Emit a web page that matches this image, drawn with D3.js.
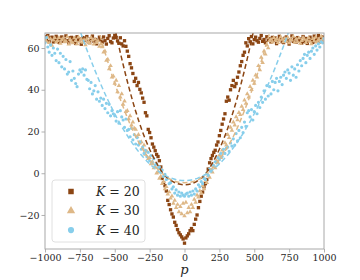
<!DOCTYPE html>
<html><head><meta charset="utf-8">
<script src="https://cdn.jsdelivr.net/npm/d3@7"></script>
<style>body{margin:0;background:#fff}svg{display:block}
text{font-family:"DejaVu Serif",serif}</style>
</head><body><svg id="c" width="360" height="280"></svg>
<script>
// ---------- data ----------
const pK20 = d3.range(-1000, 1001, 10);
const vK20 = [
65.5,64.2,66.0,63.1,64.8,65.2,62.9,63.8,65.6,64.1,
62.7,64.5,65.3,63.2,64.0,65.8,63.5,62.4,64.9,65.1,
63.4,64.6,62.2,65.4,63.9,64.3,61.8,65.0,63.6,64.7,
65.5,63.0,62.6,64.4,65.7,63.3,64.1,62.0,63.7,65.2,
64.0,62.8,65.3,63.5,61.9,64.6,65.9,63.1,62.5,64.8,
66.1,65.0,63.4,62.3,64.9,62.0,61.0,63.5,60.8,58.5,
56.0,52.5,50.5,47.8,44.0,45.5,42.0,43.5,40.2,38.5,
36.0,34.0,29.0,27.5,21.0,19.5,17.0,14.0,12.5,10.8,
9.0,8.0,6.0,3.0,-2.5,-4.5,-6.0,-8.5,-13.0,-15.0,
-17.5,-19.5,-21.0,-23.5,-25.0,-27.0,-28.5,-29.5,-30.5,-31.5,
-33.5,
-31.0,-30.0,-29.0,-27.5,-26.5,-27.5,-24.5,-22.0,-20.0,-16.5,
-13.5,-11.0,-9.0,-6.5,-5.0,-3.0,2.0,5.0,7.0,8.5,
10.0,11.0,13.5,15.0,18.0,20.5,23.5,26.0,28.5,34.5,
36.5,35.0,40.0,42.0,44.5,41.5,43.0,46.0,48.5,51.5,
53.5,56.5,58.0,62.5,61.0,64.5,63.0,65.5,62.0,64.0,
65.2,63.5,62.8,64.6,66.0,63.2,64.1,62.5,65.4,63.8,
64.4,62.9,65.1,63.6,64.8,62.1,63.9,65.6,64.2,63.0,
62.6,64.7,65.3,63.4,61.9,64.0,65.8,63.2,64.5,62.8,
65.0,63.7,64.3,62.4,65.5,63.1,64.6,62.2,63.8,65.2,
64.1,62.7,65.7,63.5,64.4,66.0,63.0,64.9,65.3,64.0];

const pK30 = d3.range(-1000, 1001, 10);
const vK30 = [
64.0,63.2,65.1,62.5,64.4,61.2,63.8,64.9,62.8,63.5,
65.0,62.2,63.9,64.6,62.9,63.3,65.3,61.8,64.1,63.0,
62.4,64.8,63.6,62.0,65.2,63.1,64.3,62.7,63.9,61.5,
64.5,63.0,62.3,65.0,63.7,61.9,64.2,62.6,63.4,60.8,
62.0,60.5,58.0,58.5,54.0,54.5,50.0,51.5,46.0,46.5,
43.0,44.5,39.0,42.0,36.5,38.0,33.0,34.5,29.5,30.0,
26.0,27.5,23.0,24.5,21.5,21.0,17.5,18.5,14.5,15.0,
12.0,13.5,9.0,10.5,7.0,7.5,4.5,5.5,2.5,3.0,
0.0,0.5,-2.5,-1.5,-5.0,-4.0,-7.5,-6.5,-10.0,-9.0,
-12.0,-11.0,-14.5,-13.0,-16.5,-15.0,-18.5,-16.0,-19.5,-14.5,
-20.5,
-14.0,-19.0,-16.5,-18.5,-15.0,-16.5,-12.5,-14.0,-10.5,-11.5,
-8.5,-9.5,-6.0,-7.5,-3.5,-4.5,-1.0,-2.0,1.5,0.5,
3.5,2.5,6.0,5.0,8.5,7.5,11.0,10.0,14.5,13.5,
18.5,17.0,22.0,20.5,24.5,23.0,27.0,25.5,29.0,28.0,
32.0,30.5,35.0,33.5,38.0,36.5,41.5,40.0,44.5,43.0,
47.0,46.0,51.5,49.5,55.5,53.0,58.5,57.0,61.5,60.0,
63.5,64.2,62.8,65.0,63.6,64.4,62.5,63.9,65.3,64.1,
62.9,64.6,63.3,65.1,62.4,64.0,63.7,65.5,62.7,64.3,
63.0,64.8,62.2,63.5,65.0,64.1,62.6,63.8,64.9,63.2,
62.0,64.5,63.4,65.2,62.8,64.0,63.1,65.6,64.2,63.5];

const pK40 = d3.range(-1000, 1001, 10);
const vK40 = [
62.5,65.0,60.5,58.0,61.5,56.5,60.0,57.5,54.0,59.5,
53.0,57.5,51.0,56.0,50.0,54.5,47.5,48.5,53.5,44.5,
49.0,45.5,43.0,41.5,47.5,49.5,48.5,50.0,47.0,49.5,
45.0,44.5,40.5,43.5,38.0,39.5,42.0,35.5,39.0,34.5,
36.0,32.5,35.5,31.0,33.5,29.0,33.0,27.5,30.0,28.5,
27.5,25.0,29.5,24.0,30.0,27.0,25.5,22.0,26.0,20.5,
21.0,17.5,21.5,16.0,18.5,14.0,17.0,13.5,15.0,11.5,
12.5,9.5,11.0,8.0,10.0,6.0,8.5,5.0,7.0,4.0,
4.5,2.5,3.0,0.5,1.5,-1.5,-0.5,-3.0,-2.5,-5.0,
-4.5,-7.5,-6.5,-9.5,-8.0,-10.5,-9.0,-11.0,-9.5,-10.5,
-11.0,
-10.0,-9.5,-11.0,-9.0,-10.5,-8.5,-10.0,-7.5,-8.5,-5.5,
-6.5,-4.0,-5.0,-2.5,-3.0,0.0,-1.0,2.0,1.0,4.0,
3.5,5.5,5.0,7.5,6.5,9.5,8.0,11.5,9.5,12.0,
12.5,10.5,14.5,13.0,16.5,13.5,19.0,15.5,20.5,17.0,
22.0,19.5,24.5,22.5,29.0,30.0,27.0,30.5,25.5,29.5,
32.5,28.5,34.0,31.5,36.5,34.0,39.5,35.5,42.0,37.0,
41.5,38.0,44.0,40.0,43.5,45.5,39.5,44.0,46.0,42.5,
47.0,48.5,45.5,49.5,48.0,44.5,51.0,47.0,50.0,46.0,
52.0,49.0,54.0,51.5,55.0,57.0,53.0,56.5,58.0,55.0,
58.5,60.0,57.0,61.0,59.0,62.0,60.5,63.0,62.5,64.5];

// dashed fit curves
const fitP20 = [-550,-500,-450,-400,-350,-300,-250,-200,-150,-100,-50,0,50,100,150,200,250,300,350,400,450,500,550];
const fitV20 = [86.4,69.9,54.9,41.5,29.7,19.7,11.5,4.8,-0.4,-3.3,-5.0,-5.5,-5.0,-3.3,-0.4,4.8,11.5,19.7,29.7,41.5,54.9,69.9,86.4];
const fitP30 = [-650,-600,-550,-500,-450,-400,-350,-300,-250,-200,-150,-100,-50,0,50,100,150,200,250,300,350,400,450,500,550,600,650];
const fitV30 = [77.3,64.9,53.5,43.0,33.6,25.1,17.6,11.6,6.6,2.5,-0.6,-3.0,-4.2,-4.5,-4.2,-3.0,-0.6,2.5,6.6,11.6,17.6,25.1,33.6,43.0,53.5,64.9,77.3];
const fitP40 = [-800,-750,-700,-650,-600,-550,-500,-450,-400,-350,-300,-250,-200,-150,-100,-50,0,50,100,150,200,250,300,350,400,450,500,550,600,650,700,750,800];
const fitV40 = [78.4,68.5,59.2,50.6,42.6,35.2,28.5,22.4,17.0,12.2,8.0,4.5,1.6,-0.6,-2.2,-3.2,-3.5,-3.2,-2.2,-0.6,1.6,4.5,8.0,12.2,17.0,22.4,28.5,35.2,42.6,50.6,59.2,68.5,78.4];

const seriesNames = ["K = 20", "K = 30", "K = 40"];
const xTicks = [-1000,-750,-500,-250,0,250,500,750,1000];
const yTicks = [-20,0,20,40,60];

// ---------- layout ----------
const colors = ["#8B4513", "#DEB887", "#87CEEB"];
const L = 45, R = 324, T = 33, B = 249;
const svg = d3.select("#c");
const x = d3.scaleLinear().domain([-1000, 1000]).range([L, R]);
const y = d3.scaleLinear().domain([-36.3, 67.2]).range([B, T]);
const font = "DejaVu Serif";

svg.append("defs").append("clipPath").attr("id", "clip")
  .append("rect").attr("x", L).attr("y", T).attr("width", R - L).attr("height", B - T);

const plot = svg.append("g").attr("clip-path", "url(#clip)");

const series = [
  {p: pK20, v: vK20, shape: d3.symbolSquare, size: 11},
  {p: pK30, v: vK30, shape: d3.symbolTriangle, size: 9},
  {p: pK40, v: vK40, shape: d3.symbolCircle, size: 8}
];
series.forEach((s, i) => {
  const sym = d3.symbol().type(s.shape).size(s.size);
  plot.append("g").selectAll("path").data(s.p.map((p, j) => [p, s.v[j]]))
    .join("path").attr("d", sym)
    .attr("transform", d => `translate(${x(d[0])},${y(d[1])})`)
    .attr("fill", colors[i]);
});

const fits = [[fitP20, fitV20], [fitP30, fitV30], [fitP40, fitV40]];
const line = d3.line().x(d => x(d[0])).y(d => y(d[1])).curve(d3.curveMonotoneX);
fits.forEach((f, i) => {
  plot.append("path").datum(f[0].map((p, j) => [p, f[1][j]]))
    .attr("d", line).attr("fill", "none").attr("stroke", colors[i])
    .attr("stroke-width", 1.5).attr("stroke-dasharray", "5,3");
});

// axes
const spine = "#a8a8a8";
const fmt = d => d < 0 ? "\u2212" + Math.abs(d) : String(d);
const xAxis = svg.append("g").attr("transform", `translate(0,${B})`)
  .call(d3.axisBottom(x).tickValues(xTicks).tickSize(3.5).tickPadding(2).tickFormat(fmt));
const yAxis = svg.append("g").attr("transform", `translate(${L},0)`)
  .call(d3.axisLeft(y).tickValues(yTicks).tickSize(3.5).tickPadding(2).tickFormat(fmt));
[xAxis, yAxis].forEach(a => {
  a.attr("font-family", font).attr("font-size", 9.5);
  a.select(".domain").remove();
  a.selectAll(".tick line").attr("stroke", spine).attr("stroke-width", 0.9);
  a.selectAll(".tick text").attr("fill", "#262626");
});
svg.append("rect").attr("x", L).attr("y", T).attr("width", R - L).attr("height", B - T)
  .attr("fill", "none").attr("stroke", spine).attr("stroke-width", 1);

svg.append("text").attr("x", (L + R) / 2).attr("y", 274).attr("text-anchor", "middle")
  .attr("font-family", font).attr("font-style", "italic").attr("font-size", 13)
  .attr("fill", "#262626").text("p");

// legend
const lg = svg.append("g");
lg.append("rect").attr("x", 52).attr("y", 180).attr("width", 93).attr("height", 62).attr("rx", 3)
  .attr("fill", "#fff").attr("fill-opacity", 0.8).attr("stroke", "#dcdcdc").attr("stroke-width", 0.9);
const legendShapes = [d3.symbolSquare, d3.symbolTriangle, d3.symbolCircle];
seriesNames.forEach((name, i) => {
  const cy = 191.5 + i * 19.3;
  lg.append("path").attr("d", d3.symbol().type(legendShapes[i]).size(30))
    .attr("transform", `translate(71,${cy})`).attr("fill", colors[i]);
  const t = lg.append("text").attr("x", 96).attr("y", cy + 4.5)
    .attr("font-family", font).attr("font-size", 12.5).attr("fill", "#262626");
  const parts = name.split(" = ");
  t.append("tspan").attr("font-style", "italic").text(parts[0]);
  t.append("tspan").text(" = " + parts[1]);
});
</script></body></html>
